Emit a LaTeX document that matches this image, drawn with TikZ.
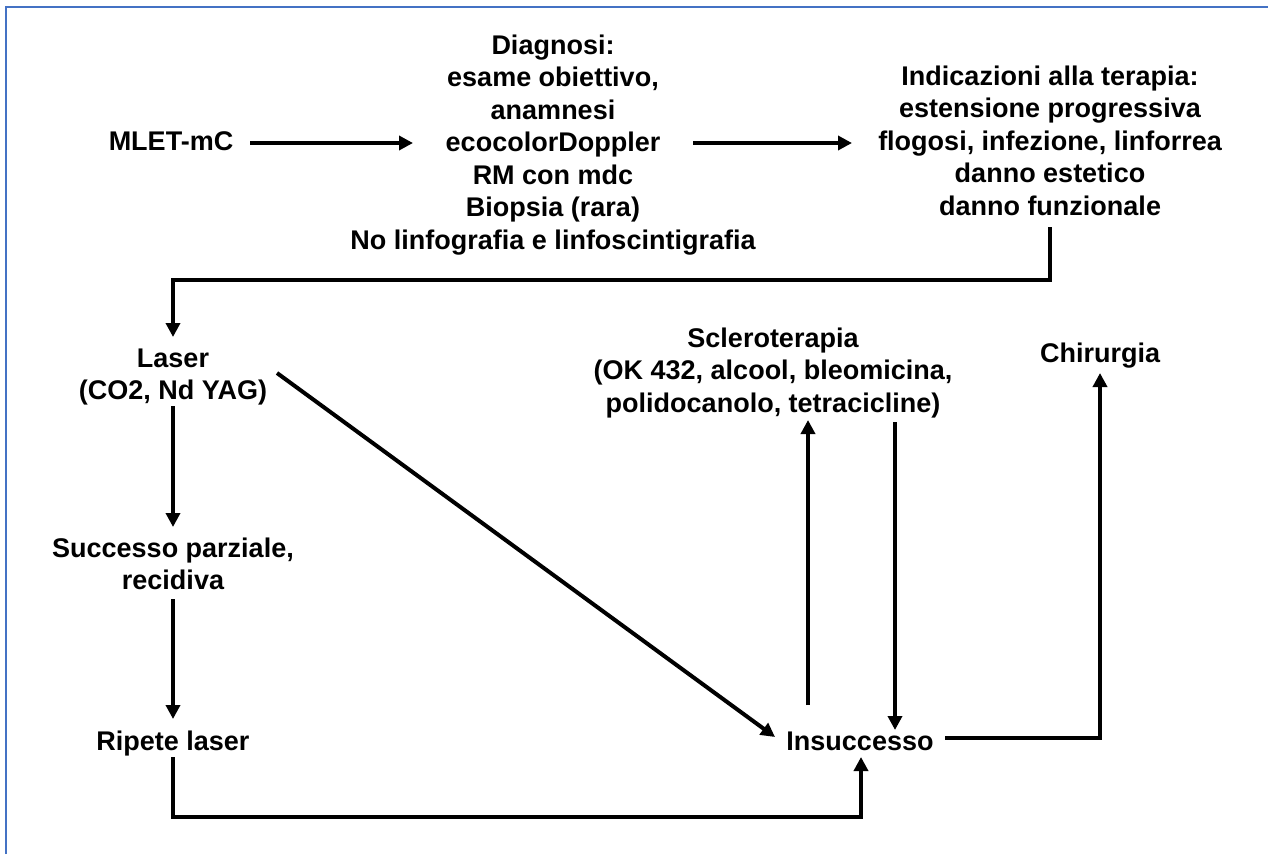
\documentclass[tikz,border=0pt]{standalone}
\usepackage{fontspec}
\setmainfont{Liberation Sans}
\usetikzlibrary{arrows.meta,calc}
\definecolor{framebl}{RGB}{68,114,196}
\newcommand\mylines[1]{\vtop{\baselineskip=32.5pt\halign{\hfil##\hfil\cr#1\crcr}}}
\tikzset{
  txt/.style={inner sep=0pt, anchor=base, font=\fontsize{27}{32.5}\selectfont\bfseries},
  conn/.style={line width=4pt, -{Triangle[length=14pt,width=14pt]}},
}
\begin{document}
\begin{tikzpicture}[x=1pt,y=-1pt]
\useasboundingbox[fill=white] (0,0) rectangle (1268,854);
\draw[framebl, line width=2.5pt] (6,854) -- (6,7) -- (1268,7);

\node[txt] (mlet) at (171,150) {MLET-mC};
\node[txt] (diag) at (553,54) {\mylines{Diagnosi:\cr esame obiettivo,\cr anamnesi\cr ecocolorDoppler\cr RM con mdc\cr Biopsia (rara)\cr No linfografia e linfoscintigrafia}};
\node[txt] (ind) at (1050,85) {\mylines{Indicazioni alla terapia:\cr estensione progressiva\cr flogosi, infezione, linforrea\cr danno estetico\cr danno funzionale}};
\node[txt] (laser) at (173,367) {\mylines{Laser\cr (CO2, Nd YAG)}};
\node[txt] (succ) at (173,557) {\mylines{Successo parziale,\cr recidiva}};
\node[txt] (rip) at (173,750) {Ripete laser};
\node[txt] (insu) at (860,750) {Insuccesso};
\node[txt] (scle) at (773,347) {\mylines{Scleroterapia\cr (OK 432, alcool, bleomicina,\cr polidocanolo, tetracicline)}};
\node[txt] (chir) at (1100,362) {Chirurgia};

% MLET -> Diagnosi
\draw[conn] ($(mlet.base)+(79,-7)$) -- ($(diag.base)+(-140,89)$);
% Diagnosi -> Indicazioni
\draw[conn] ($(diag.base)+(140,89)$) -- ($(ind.base)+(-198,58)$);
% Indicazioni -> Laser
\draw[conn] ($(ind.base)+(0,142)$) -- ($(ind.base)+(0,195)$) -| ($(laser.base)+(0,-30)$);
% Laser -> Successo
\draw[conn] ($(laser.base)+(0,39)$) -- ($(succ.base)+(0,-30)$);
% Laser -> Insuccesso
\draw[conn] ($(laser.base)+(104,6)$) -- ($(insu.base)+(-85,-13)$);
% Successo -> Ripete
\draw[conn] ($(succ.base)+(0,42)$) -- ($(rip.base)+(0,-31)$);
% Ripete -> Insuccesso
\draw[conn] ($(rip.base)+(0,7)$) -- ($(rip.base)+(0,67)$) -| ($(insu.base)+(1,7)$);
% Insuccesso -> Scleroterapia
\draw[conn] ($(insu.base)+(-52,-45)$) -- ($(scle.base)+(35,73)$);
% Scleroterapia -> Insuccesso
\draw[conn] ($(scle.base)+(122,75)$) -- ($(insu.base)+(35,-20)$);
% Insuccesso -> Chirurgia
\draw[conn] ($(insu.base)+(85,-12)$) -| ($(chir.base)+(0,11)$);
\end{tikzpicture}
\end{document}
